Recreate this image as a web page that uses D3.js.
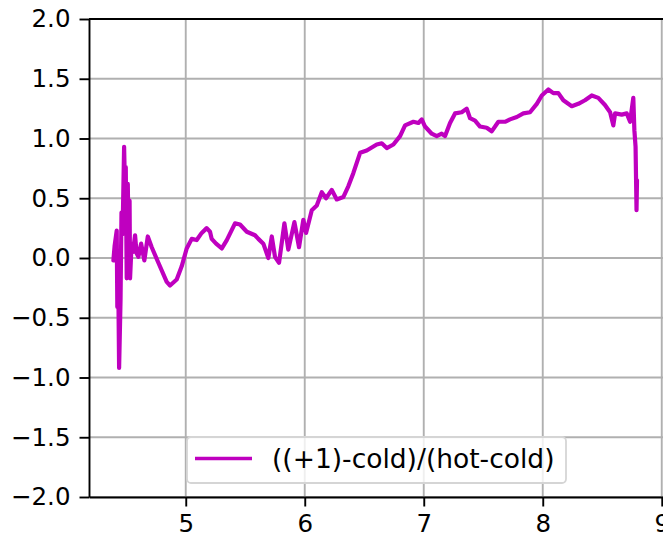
<!DOCTYPE html>
<html>
<head>
<meta charset="utf-8">
<script src="https://cdn.jsdelivr.net/npm/d3@7"></script>
<style>
    body { margin: 0; background: #fff; }
    svg { display: block; font-family: "DejaVu Sans", sans-serif; }
</style>
</head>
<body>
<div id="chart"></div>
<script>
// values
const xs = [4.392, 4.402, 4.420, 4.425, 4.434, 4.440, 4.452, 4.460, 4.469, 4.482,
    4.490, 4.496, 4.504, 4.513, 4.521, 4.528, 4.532, 4.545, 4.557, 4.574,
    4.587, 4.602, 4.625, 4.652, 4.681, 4.714, 4.770, 4.840, 4.868, 4.924,
    4.966, 5.008, 5.050, 5.092, 5.134, 5.176, 5.204, 5.218, 5.255, 5.303,
    5.345, 5.414, 5.456, 5.513, 5.582, 5.610, 5.652, 5.694, 5.723, 5.750,
    5.784, 5.829, 5.862, 5.913, 5.952, 5.988, 6.011, 6.059, 6.101, 6.143,
    6.179, 6.227, 6.269, 6.324, 6.366, 6.408, 6.465, 6.521, 6.605, 6.647,
    6.689, 6.745, 6.801, 6.843, 6.913, 6.955, 6.983, 7.011, 7.067, 7.109,
    7.151, 7.179, 7.221, 7.263, 7.319, 7.361, 7.389, 7.431, 7.473, 7.529,
    7.571, 7.627, 7.683, 7.725, 7.782, 7.837, 7.893, 7.950, 7.992, 8.047,
    8.089, 8.131, 8.173, 8.244, 8.299, 8.355, 8.412, 8.467, 8.523, 8.566,
    8.593, 8.608, 8.664, 8.706, 8.734, 8.761, 8.770, 8.780, 8.788, 8.792];
const ys = [-0.02, 0.10, 0.23, -0.41, -0.30, -0.92, -0.35, 0.38, 0.20, 0.93,
    0.55, 0.76, -0.17, 0.62, 0.05, 0.48, -0.17, 0.12, 0.05, 0.19,
    0.04, 0.01, 0.12, -0.02, 0.18, 0.09, -0.04, -0.20, -0.23, -0.18,
    -0.07, 0.08, 0.16, 0.15, 0.21, 0.25, 0.22, 0.16, 0.12, 0.08,
    0.15, 0.29, 0.28, 0.22, 0.19, 0.16, 0.12, 0.00, 0.18, 0.01,
    -0.04, 0.29, 0.07, 0.30, 0.09, 0.32, 0.21, 0.40, 0.44, 0.55,
    0.50, 0.57, 0.49, 0.51, 0.60, 0.71, 0.88, 0.90, 0.95, 0.96,
    0.92, 0.95, 1.02, 1.11, 1.14, 1.13, 1.16, 1.10, 1.04, 1.02,
    1.04, 1.02, 1.13, 1.21, 1.22, 1.25, 1.17, 1.15, 1.10, 1.09,
    1.06, 1.14, 1.14, 1.16, 1.18, 1.21, 1.22, 1.29, 1.36, 1.41,
    1.38, 1.38, 1.32, 1.27, 1.29, 1.32, 1.36, 1.34, 1.28, 1.22,
    1.11, 1.21, 1.20, 1.21, 1.14, 1.34, 1.07, 0.93, 0.40, 0.65];
const xTicks = [5, 6, 7, 8, 9];
const yTicks = [-2.0, -1.5, -1.0, -0.5, 0.0, 0.5, 1.0, 1.5, 2.0];
const seriesLabel = "((+1)-cold)/(hot-cold)";

const width = 663,
    height = 540,
    margin = {top: 19, left: 89, bottom: 497};

const data = xs.map((x, i) => ({x: x, y: ys[i]}));

const xScale = d3.scaleLinear()
    .domain([4.187, 9.5])
    .range([margin.left, margin.left + 5.313 * 119]);

const yScale = d3.scaleLinear()
    .domain([-2, 2])
    .range([margin.bottom, margin.top]);

const svg = d3.select("#chart")
    .append("svg")
    .attr("width", width)
    .attr("height", height);

// grid
svg.append("g")
    .selectAll("line")
    .data(xTicks)
    .join("line")
    .attr("x1", (d) => xScale(d))
    .attr("x2", (d) => xScale(d))
    .attr("y1", margin.top)
    .attr("y2", margin.bottom)
    .attr("stroke", "#b0b0b0")
    .attr("stroke-width", 1.9);

svg.append("g")
    .selectAll("line")
    .data(yTicks)
    .join("line")
    .attr("x1", margin.left)
    .attr("x2", width)
    .attr("y1", (d) => yScale(d))
    .attr("y2", (d) => yScale(d))
    .attr("stroke", "#b0b0b0")
    .attr("stroke-width", 1.9);

const line = d3.line()
    .x((d) => xScale(d.x))
    .y((d) => yScale(d.y));

svg.append("path")
    .datum(data)
    .attr("d", line)
    .attr("fill", "none")
    .attr("stroke", "#bf00bf")
    .attr("stroke-width", 4.2)
    .attr("stroke-linejoin", "round")
    .attr("stroke-linecap", "round");

// axes
const fmt = (d) => d3.format(".1f")(d).replace("-", "\u2212");

const xAxis = svg.append("g")
    .attr("transform", `translate(0,${margin.bottom})`)
    .call(d3.axisBottom(xScale).tickValues(xTicks).tickFormat(d3.format("d")).tickSize(9.5).tickPadding(8).tickSizeOuter(0));
const yAxis = svg.append("g")
    .attr("transform", `translate(${margin.left},0)`)
    .call(d3.axisLeft(yScale).tickValues(yTicks).tickFormat(fmt).tickSize(9.5).tickPadding(9).tickSizeOuter(0));

[xAxis, yAxis].forEach((g) => {
    g.select(".domain").attr("stroke", "#000").attr("stroke-width", 1.9);
    g.selectAll(".tick line").attr("stroke", "#000").attr("stroke-width", 1.9);
    g.selectAll(".tick text")
        .attr("fill", "#000")
        .style("font-family", "'DejaVu Sans', sans-serif")
        .style("font-size", "24.5px");
});

// top spine
svg.append("line")
    .attr("x1", margin.left)
    .attr("x2", width)
    .attr("y1", margin.top)
    .attr("y2", margin.top)
    .attr("stroke", "#000")
    .attr("stroke-width", 1.9);

// legend
const legend = svg.append("g");
legend.append("rect")
    .attr("x", 187)
    .attr("y", 437)
    .attr("width", 379)
    .attr("height", 46)
    .attr("rx", 4)
    .attr("fill", "#fff")
    .attr("fill-opacity", 0.8)
    .attr("stroke", "#d5d5d5")
    .attr("stroke-width", 1.8);
legend.append("line")
    .attr("x1", 195)
    .attr("x2", 252)
    .attr("y1", 458.5)
    .attr("y2", 458.5)
    .attr("stroke", "#bf00bf")
    .attr("stroke-width", 3.6);
legend.append("text")
    .attr("x", 272)
    .attr("y", 468)
    .style("font-size", "26.5px")
    .attr("fill", "#000")
    .text(seriesLabel);
</script>
</body>
</html>
